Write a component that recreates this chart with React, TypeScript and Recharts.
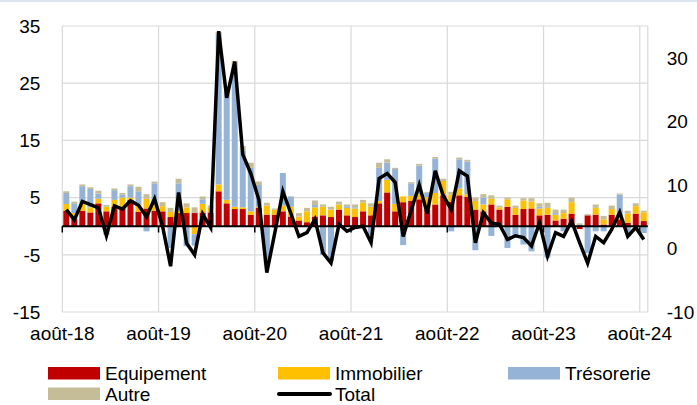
import React from 'react';
import { ComposedChart, Bar, Line, XAxis, YAxis, CartesianGrid, ReferenceLine } from 'recharts';

// monthly points, août-18 .. août-24
const monthNames = ['août', 'sept', 'oct', 'nov', 'déc', 'janv', 'févr', 'mars', 'avr', 'mai', 'juin', 'juil'];
const months: string[] = [];
for (let i = 0; i < 73; i++) {
  const yr = 18 + Math.floor((i + 7) / 12);
  months.push(`${monthNames[i % 12]}-${yr}`);
}

const equipement = [
  2.7, 1.3, 2.7, 2.4, 4.0, 2.6, 3.4, 3.4, 4.6, 2.5, 3.1, 2.7,
  2.6, 1.6, 2.3, 2.3, 2.3, 2.4, 2.4, 6.1, 4.0, 3.0, 3.0, 2.0,
  3.2, 2.0, 2.0, 2.6, 1.7, 1.0, 0.7, 1.7, 1.9, 1.6, 2.9, 1.9,
  1.6, 2.6, 1.9, 4.0, 5.9, 2.6, 4.2, 4.4, 4.7, 2.9, 3.8, 5.4,
  4.3, 5.4, 5.1, 2.9, 2.6, 3.8, 2.9, 3.4, 2.0, 3.0, 3.1, 1.9,
  2.0, 1.0, 1.3, 2.2, -0.5, 1.9, 2.0, 0.3, 2.0, 1.2, 0.6, 2.2,
  0.9,
];
const immobilier = [
  1.2, 1.0, 1.3, 0.9, 0.8, 0.8, 1.2, 1.6, 0.4, 1.3, 1.7, 1.0,
  0.9, 0.9, 0.4, 1.0, -1.4, 1.5, 0.9, 1.2, 0.6, 0.4, 0.3, 0.6,
  0.2, 1.6, 0.9, 1.0, 1.7, 0.7, 1.9, 1.6, 1.5, 1.3, 0.9, 1.3,
  1.5, 1.5, 1.5, 0.4, 2.2, 1.3, 1.0, 0.9, 0.9, 2.2, 2.0, 2.5,
  1.2, 1.2, 0.5, 1.5, 1.2, 1.0, 0.4, 1.3, 1.2, 1.5, 1.2, 1.2,
  1.2, 1.0, 1.0, 2.0, 0, 0, 1.2, 0.9, 1.0, 0.3, 1.6, 1.3,
  1.5,
];
const tresorerie = [
  1.9, 1.6, 3.0, 3.2, 0.9, -1.5, 1.7, 0.5, 2.0, 2.3, -0.9, 3.8,
  0, -3.8, 4.8, -3.5, -2.0, 0.8, 0, 26.4, 18.6, 24.9, 9.9, 7.6,
  3.8, -6.8, -0.3, 5.7, 1.8, 0, 0, 0.4, -5.0, -6.1, 0, 0.3,
  0.2, 0, -1.5, 5.8, 3.0, 6.1, -3.3, 2.2, 5.0, 0.8, 6.0, 0,
  -0.9, 5.1, 5.7, -4.2, 1.2, -1.7, 0, -3.8, -1.6, -3.2, -4.4, 0.3,
  -5.5, 0.3, -0.9, 0, 0.2, -4.7, -0.9, -0.9, 0, 4.0, -1.2, 0,
  -1.2,
];
const autre = [
  0.3, 0.4, 0.3, 0.3, 0.5, 0.3, 0.3, 0.3, 0.3, 0.8, 0.8, 0.3,
  0.7, 0.7, 0.8, 0.7, 1.0, 0.5, 0.3, 0.3, 0.3, 0.6, 0.8, 0.9,
  0.6, 0.5, 0.2, 0, 0, 0.6, 0.6, 0.8, 0.4, 0.5, 0.5, 0.3,
  0.5, 0.5, 0.6, 0.9, 0.6, 0.2, 0, 0.2, 0.3, 0.1, 0.3, 0.4,
  0.5, 0.3, 0.3, 0.6, 0.6, 0.6, 0.3, 0.3, 0.4, 0.4, 0.6, 0.6,
  0.9, 0.6, 0.6, 0.8, 0.3, 0.2, 0.6, 0.6, 0.6, 0.2, 0.5, 0.5,
  0.3,
];
const total = [
  6.1, 4.5, 7.4, 6.9, 6.4, 2.0, 6.7, 6.2, 7.5, 6.8, 5.0, 7.8,
  3.5, -2.8, 8.8, 0.8, -1.0, 5.4, 3.3, 34.2, 23.7, 29.4, 14.8, 11.8,
  7.7, -3.8, 2.5, 9.0, 5.5, 1.9, 2.5, 4.6, -0.7, -2.3, 3.8, 2.7,
  3.3, 3.5, 0.9, 11.0, 11.8, 10.4, 1.9, 6.0, 10.0, 5.5, 12.2, 8.3,
  6.1, 12.2, 11.4, 0.9, 5.6, 4.0, 3.8, 1.4, 2.0, 1.7, 0.4, 4.0,
  -1.2, 2.5, 1.9, 4.3, 0.9, -2.3, 1.9, 0.9, 3.0, 5.7, 1.9, 3.3,
  1.4,
];

const yearTicks = [0, 12, 24, 36, 48, 60, 72];
const leftTicks = [-15, -5, 5, 15, 25, 35];
const rightTicks = [-10, 0, 10, 20, 30];

const data = months.map((m, i) => ({
  month: m,
  pos: i + 0.5,
  equipement: equipement[i],
  immobilier: immobilier[i],
  tresorerie: tresorerie[i],
  autre: autre[i],
  total: total[i],
}));

const FONT = '"Liberation Sans", Arial, sans-serif';
const tickStyle = { fontSize: 19, fill: '#000', fontFamily: FONT };

const legendItems = [
  { label: 'Equipement', color: '#C00000', kind: 'rect', col: 0, row: 0 },
  { label: 'Immobilier', color: '#FFC000', kind: 'rect', col: 1, row: 0 },
  { label: 'Trésorerie', color: '#95B3D7', kind: 'rect', col: 2, row: 0 },
  { label: 'Autre', color: '#C4BD97', kind: 'rect', col: 0, row: 1 },
  { label: 'Total', color: '#000000', kind: 'line', col: 1, row: 1 },
];

const LegendBlock = () => (
  <svg width={697} height={405} style={{ position: 'absolute', left: 0, top: 0, pointerEvents: 'none' }}>
    {legendItems.map((it) => {
      const x = 48 + it.col * 230;
      const base = 380 + it.row * 20.5;
      return (
        <g key={it.label}>
          {it.kind === 'rect' ? (
            <rect x={x} y={base - 13} width={52} height={12.5} fill={it.color} />
          ) : (
            <line x1={x + 1} x2={x + 52} y1={base - 6.5} y2={base - 6.5} stroke={it.color} strokeWidth={4} strokeLinecap="round" />
          )}
          <text x={x + 57} y={base} fontSize={19} fontFamily={FONT} fill="#000">{it.label}</text>
        </g>
      );
    })}
  </svg>
);

export default function App() {
  return (
    <div style={{ position: 'absolute', left: 0, top: 0, width: 697, height: 405, background: '#fff', overflow: 'hidden' }}>
      <div style={{ position: 'absolute', left: 0, top: 0, width: 697, height: 2, background: '#dce6f1' }} />
      <ComposedChart
        width={697}
        height={350}
        data={data}
        stackOffset="sign"
        margin={{ top: 26, right: 9.2, bottom: 8, left: 12.3 }}
      >
        <CartesianGrid yAxisId="left" stroke="#d9d9d9" strokeWidth={1.2} />
        <XAxis
          dataKey="pos"
          type="number"
          domain={[0, 73]}
          ticks={yearTicks}
          tickFormatter={(v: number) => months[v]}
          axisLine={false}
          tickLine={false}
          tickSize={0}
          tickMargin={15}
          height={30}
          tick={tickStyle}
          interval={0}
        />
        <YAxis
          yAxisId="left"
          domain={[-15, 35]}
          ticks={leftTicks}
          axisLine={false}
          tickLine={false}
          tickSize={0}
          tickMargin={22}
          width={50}
          tick={tickStyle}
          interval={0}
        />
        <YAxis
          yAxisId="right"
          orientation="right"
          domain={[-10, 35]}
          ticks={rightTicks}
          axisLine={false}
          tickLine={false}
          tickSize={0}
          tickMargin={19}
          width={40}
          tick={{ ...tickStyle, textAnchor: 'start' }}
          interval={0}
        />
        <Bar yAxisId="left" dataKey="equipement" stackId="a" fill="#C00000" barSize={6} isAnimationActive={false} />
        <Bar yAxisId="left" dataKey="immobilier" stackId="a" fill="#FFC000" barSize={6} isAnimationActive={false} />
        <Bar yAxisId="left" dataKey="tresorerie" stackId="a" fill="#95B3D7" barSize={6} isAnimationActive={false} />
        <Bar yAxisId="left" dataKey="autre" stackId="a" fill="#C4BD97" barSize={6} isAnimationActive={false} />
        <ReferenceLine yAxisId="left" y={0} stroke="#000" strokeWidth={2} />
        {yearTicks.map((t) => (
          <ReferenceLine
            key={t}
            yAxisId="left"
            segment={[{ x: t, y: 0 }, { x: t, y: -1.1 }]}
            stroke="#000"
            strokeWidth={1.5}
          />
        ))}
        <Line
          yAxisId="right"
          type="linear"
          dataKey="total"
          stroke="#000"
          strokeWidth={3.5}
          dot={false}
          strokeLinejoin="miter"
          isAnimationActive={false}
        />
      </ComposedChart>
      <LegendBlock />
    </div>
  );
}
